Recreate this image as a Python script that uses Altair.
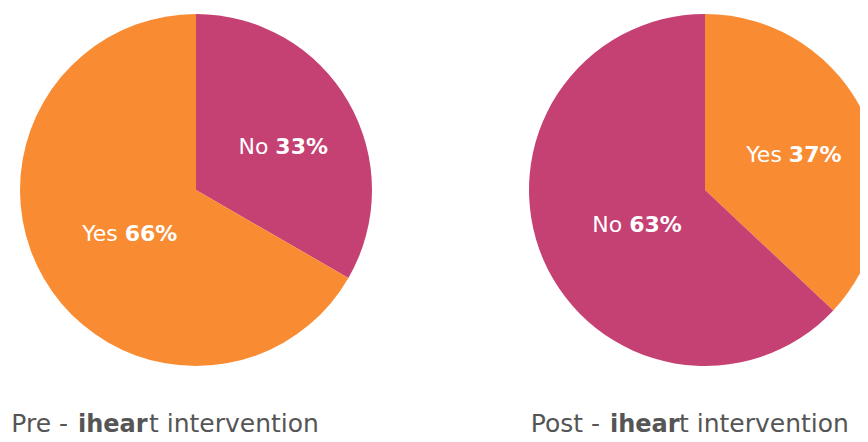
import altair as alt
import pandas as pd

# ---- data ----
pre_answers = ["No", "Yes"]
pre_values = [33, 66]
post_answers = ["Yes", "No"]
post_values = [37, 63]

title_leads = ["Pre -", "Post -"]
title_brand = ["ihear", "ihear"]
title_tails = ["t intervention", "t intervention"]

answer_domain = ["Yes", "No"]
answer_range = ["#F98C33", "#C54073"]

FONT = "DejaVu Sans"
TITLE_COLOR = "#555555"
TITLE_Y = 424


def panel(answers, values, lead, brand, tail, width, cx, lead_x, brand_x, tail_x):
    df = pd.DataFrame({"answer": answers, "value": values,
                       "order": list(range(len(answers)))})
    df["pct"] = df["value"].astype(str) + "%"
    base = alt.Chart(df).encode(
        theta=alt.Theta("value:Q", stack=True),
        order=alt.Order("order:Q"),
        x=alt.value(cx),
    )
    pie = base.mark_arc(outerRadius=176, clip=True).encode(
        color=alt.Color("answer:N",
                        scale=alt.Scale(domain=answer_domain, range=answer_range),
                        legend=None)
    )
    lab1 = base.mark_text(radius=87, align="right", dx=-3, baseline="middle",
                          font=FONT, fontSize=22, color="white").encode(text="answer:N")
    lab2 = base.mark_text(radius=87, align="left", dx=4, baseline="middle",
                          font=FONT, fontSize=22, fontWeight="bold",
                          color="white").encode(text="pct:N")

    tdf = pd.DataFrame({"lead": [lead], "brand": [brand], "tail": [tail]})
    tbase = alt.Chart(tdf)
    t1 = tbase.mark_text(align="right", baseline="alphabetic", font=FONT,
                         fontSize=25, color=TITLE_COLOR).encode(
        x=alt.value(lead_x), y=alt.value(TITLE_Y), text="lead:N")
    t2 = tbase.mark_text(align="left", baseline="alphabetic", font=FONT,
                         fontSize=24, fontWeight="bold", color=TITLE_COLOR).encode(
        x=alt.value(brand_x), y=alt.value(TITLE_Y), text="brand:N")
    t3 = tbase.mark_text(align="left", baseline="alphabetic", font=FONT,
                         fontSize=25, color=TITLE_COLOR).encode(
        x=alt.value(tail_x), y=alt.value(TITLE_Y), text="tail:N")
    return alt.layer(pie, lab1, lab2, t1, t2, t3).properties(width=width, height=364)


left = panel(pre_answers, pre_values, title_leads[0], title_brand[0], title_tails[0],
             376, 188, 60, 70, 141)
right = panel(post_answers, post_values, title_leads[1], title_brand[1], title_tails[1],
              340, 185, 80, 90, 159)

chart = alt.hconcat(left, right, spacing=136).properties(
    padding={"left": 0, "right": 0, "top": 0, "bottom": 0}
).configure_view(strokeWidth=0)

chart.save("out.html", embed_options={"renderer": "svg", "actions": False})
